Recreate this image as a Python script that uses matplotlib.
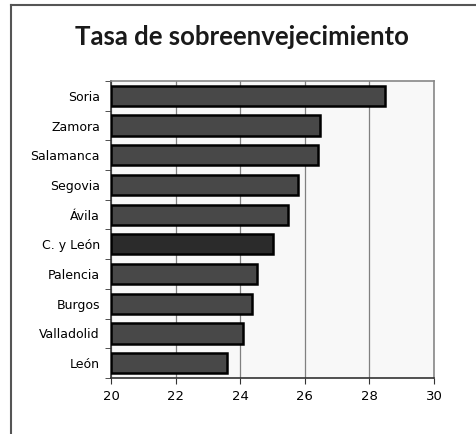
import matplotlib
matplotlib.use("Agg")
import matplotlib.pyplot as plt
from matplotlib.lines import Line2D
from matplotlib.ticker import FixedLocator

provincias = ["Soria", "Zamora", "Salamanca", "Segovia", "Ávila",
              "C. y León", "Palencia", "Burgos", "Valladolid", "León"]
tasa = [28.48, 26.47, 26.42, 25.78, 25.47, 25.0, 24.51, 24.35, 24.09, 23.58]
xticks = [20, 22, 24, 26, 28, 30]

fig = plt.figure(figsize=(4.77, 4.34), dpi=100)
ax = fig.add_axes([111 / 477, 1 - 378 / 434, (434 - 111) / 477, (378 - 81) / 434])

ypos = list(range(len(provincias)))[::-1]
colores = ["#2b2b2b" if p == "C. y León" else "#484848" for p in provincias]
ax.barh(ypos, [t - 20 for t in tasa], left=20, height=0.68, color=colores,
        edgecolor="black", linewidth=1.8, zorder=3)

ax.set_facecolor("#f8f8f8")
ax.set_xlim(20, 30)
ax.set_ylim(-0.5, len(provincias) - 0.5)
ax.set_xticks(xticks)
ax.set_xticklabels([str(x) for x in xticks])
ax.set_yticks(ypos)
ax.set_yticklabels(provincias)
ax.yaxis.set_minor_locator(FixedLocator([i - 0.5 for i in range(len(provincias) + 1)]))
ax.tick_params(axis="y", which="major", length=0, pad=8, labelsize=9)
ax.tick_params(axis="y", which="minor", length=4, color="#333333", direction="out")
ax.tick_params(axis="x", length=4, color="#333333", labelsize=9.5, pad=5)
ax.grid(axis="x", color="#808080", linewidth=0.9, zorder=1)

for s in ["top", "right"]:
    ax.spines[s].set_color("#888888")
    ax.spines[s].set_linewidth(1.2)
for s in ["left", "bottom"]:
    ax.spines[s].set_color("#333333")
    ax.spines[s].set_linewidth(1.2)

for lbl in ax.get_yticklabels() + ax.get_xticklabels():
    lbl.set_fontfamily("DejaVu Sans")

fig.text(0.508, 1 - 37 / 434, "Tasa de sobreenvejecimiento", ha="center", va="center",
         fontsize=18.5, fontweight="bold", fontfamily="Lato", color="#1a1a1a")

# marco de la figura
fig.add_artist(Line2D([11.5 / 477, 11.5 / 477], [0, 1 - 4.5 / 434], color="#555555",
                      linewidth=1.5, transform=fig.transFigure))
fig.add_artist(Line2D([11.5 / 477, 1], [1 - 4.5 / 434, 1 - 4.5 / 434], color="#555555",
                      linewidth=1.5, transform=fig.transFigure))

fig.savefig("out.png", dpi=100)
